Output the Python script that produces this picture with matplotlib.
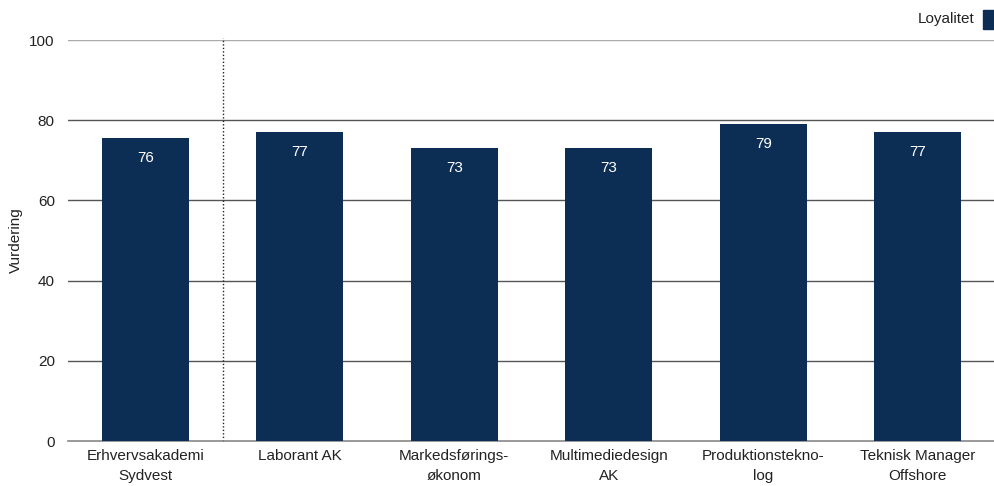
import matplotlib.pyplot as plt
import numpy as np

# Data
categories = ["Erhvervsakademi\nSydvest", "Laborant AK", "Markedsførings-\nøkonom",
              "Multimediedesign\nAK", "Produktionstekno-\nlog", "Teknisk Manager\nOffshore"]
values = [75.6, 77, 73, 73, 79, 77]
series_name = "Loyalitet"
yticks = [0, 20, 40, 60, 80, 100]

bar_color = "#0c2e55"
plt.rcParams["font.family"] = ["Liberation Sans", "DejaVu Sans"]

fig = plt.figure(figsize=(9.95, 4.86), dpi=100)
ax = fig.add_axes([68 / 995, 1 - 441 / 486, 1 - 68 / 995, 401 / 486])

x = np.arange(len(categories))
ax.bar(x, values, width=0.563, color=bar_color, zorder=3)

for xi, v in zip(x, values):
    ax.text(xi, v - 5, f"{v:.0f}", ha="center", va="center", color="white", fontsize=11, zorder=4)

ax.set_xlim(-0.5, len(categories) - 0.5)
ax.set_ylim(0, 100)
ax.set_yticks(yticks)
ax.set_xticks(x)
ax.set_xticklabels(categories, fontsize=11, color="#222222", linespacing=1.5)
ax.tick_params(axis="y", labelsize=11, colors="#222222", length=0, pad=9.5)
ax.tick_params(axis="x", length=0, pad=6)

for t in yticks[1:]:
    ax.axhline(t, color="#aaaaaa" if t == 100 else "#555555", lw=1, zorder=1)

# dotted separator after the first category
ax.axvline(0.5, ymin=0, ymax=1.005, color="#222222", lw=1, ls=(0, (1, 1.5)), zorder=2, clip_on=False)

for s in ["top", "right", "left"]:
    ax.spines[s].set_visible(False)
ax.spines["bottom"].set_color("#888888")
ax.spines["bottom"].set_linewidth(1.2)

ax.set_ylabel("Vurdering", fontsize=11, color="#222222")
ax.yaxis.set_label_coords(-45 / 927, 0.5)

# legend in the top right corner
fig.text(975 / 995, 1 - 19 / 486, series_name, ha="right", va="center", fontsize=11, color="#222222")
fig.patches.append(plt.Rectangle((983 / 995, 1 - 29 / 486), 12 / 995, 19 / 486,
                                 transform=fig.transFigure, color=bar_color, figure=fig))

plt.savefig("out.png", dpi=100)
